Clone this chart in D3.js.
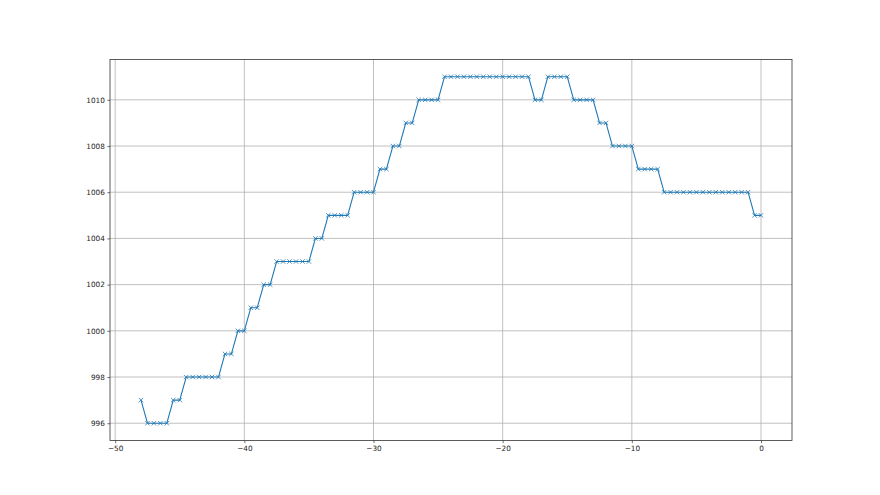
<!DOCTYPE html>
<html>
<head>
<meta charset="utf-8">
<script src="https://cdn.jsdelivr.net/npm/d3@7"></script>
<style>
  body { margin: 0; background: #fff; }
  text { font-family: "DejaVu Sans", sans-serif; }
</style>
</head>
<body>
<div id="grafica"></div>
<script>
// hours before now and pressure readings
var horas = [-48, -47.5, -47, -46.5, -46, -45.5, -45, -44.5, -44, -43.5, -43, -42.5, -42,
  -41.5, -41, -40.5, -40, -39.5, -39, -38.5, -38, -37.5, -37, -36.5, -36, -35.5, -35,
  -34.5, -34, -33.5, -33, -32.5, -32, -31.5, -31, -30.5, -30, -29.5, -29, -28.5, -28,
  -27.5, -27, -26.5, -26, -25.5, -25, -24.5, -24, -23.5, -23, -22.5, -22, -21.5, -21,
  -20.5, -20, -19.5, -19, -18.5, -18, -17.5, -17, -16.5, -16, -15.5, -15, -14.5, -14,
  -13.5, -13, -12.5, -12, -11.5, -11, -10.5, -10, -9.5, -9, -8.5, -8, -7.5, -7, -6.5, -6,
  -5.5, -5, -4.5, -4, -3.5, -3, -2.5, -2, -1.5, -1, -0.5, 0];
var presion = [997, 996, 996, 996, 996, 997, 997, 998, 998, 998, 998, 998, 998,
  999, 999, 1000, 1000, 1001, 1001, 1002, 1002, 1003, 1003, 1003, 1003, 1003, 1003,
  1004, 1004, 1005, 1005, 1005, 1005, 1006, 1006, 1006, 1006, 1007, 1007, 1008, 1008,
  1009, 1009, 1010, 1010, 1010, 1010, 1011, 1011, 1011, 1011, 1011, 1011, 1011, 1011,
  1011, 1011, 1011, 1011, 1011, 1011, 1010, 1010, 1011, 1011, 1011, 1011, 1010, 1010,
  1010, 1010, 1009, 1009, 1008, 1008, 1008, 1008, 1007, 1007, 1007, 1007, 1006, 1006,
  1006, 1006, 1006, 1006, 1006, 1006, 1006, 1006, 1006, 1006, 1006, 1006, 1005, 1005];
var xticks = [-50, -40, -30, -20, -10, 0];
var yticks = [996, 998, 1000, 1002, 1004, 1006, 1008, 1010];

var izq = 110, der = 792, arriba = 59.4, abajo = 440.55;

var svg = d3.select("#grafica")
  .append("svg")
  .attr("width", 880)
  .attr("height", 495);

var x = d3.scaleLinear().domain([-50.4, 2.4]).range([izq, der]);
var y = d3.scaleLinear().domain([995.25, 1011.75]).range([abajo, arriba]);

// grid
svg.append("g").selectAll("line").data(xticks).enter().append("line")
  .attr("x1", d => x(d)).attr("x2", d => x(d))
  .attr("y1", arriba).attr("y2", abajo)
  .attr("stroke", "#b0b0b0").attr("stroke-width", 0.8);
svg.append("g").selectAll("line").data(yticks).enter().append("line")
  .attr("y1", d => y(d)).attr("y2", d => y(d))
  .attr("x1", izq).attr("x2", der)
  .attr("stroke", "#b0b0b0").attr("stroke-width", 0.8);

var fmt = d => (d < 0 ? "\u2212" + Math.abs(d) : "" + d);

var ejeX = svg.append("g")
  .attr("transform", "translate(0," + abajo + ")")
  .call(d3.axisBottom(x).tickValues(xticks).tickFormat(fmt).tickSize(2.6).tickPadding(2.6));
var ejeY = svg.append("g")
  .attr("transform", "translate(" + izq + ",0)")
  .call(d3.axisLeft(y).tickValues(yticks).tickFormat(d => d).tickSize(2.6).tickPadding(2.6));
[ejeX, ejeY].forEach(function (g) {
  g.select(".domain").remove();
  g.selectAll("line").attr("stroke", "#333").attr("stroke-width", 0.7);
  g.selectAll("text").attr("font-size", 7.3).attr("fill", "#222")
    .attr("font-family", "DejaVu Sans, sans-serif");
});

// frame
svg.append("rect")
  .attr("x", izq).attr("y", arriba)
  .attr("width", der - izq).attr("height", abajo - arriba)
  .attr("fill", "none").attr("stroke", "#333").attr("stroke-width", 0.8);

var puntos = horas.map((h, i) => [h, presion[i]]);

svg.append("path")
  .datum(puntos)
  .attr("fill", "none")
  .attr("stroke", "#1f77b4")
  .attr("stroke-width", 1.1)
  .attr("stroke-linejoin", "round")
  .attr("d", d3.line().x(d => x(d[0])).y(d => y(d[1])));

var m = 2.2;
svg.append("g").selectAll("path").data(puntos).enter().append("path")
  .attr("transform", d => "translate(" + x(d[0]) + "," + y(d[1]) + ")")
  .attr("d", "M" + (-m) + "," + (-m) + "L" + m + "," + m + "M" + (-m) + "," + m + "L" + m + "," + (-m))
  .attr("stroke", "#1f77b4")
  .attr("stroke-width", 0.8)
  .attr("fill", "none");
</script>
</body>
</html>
